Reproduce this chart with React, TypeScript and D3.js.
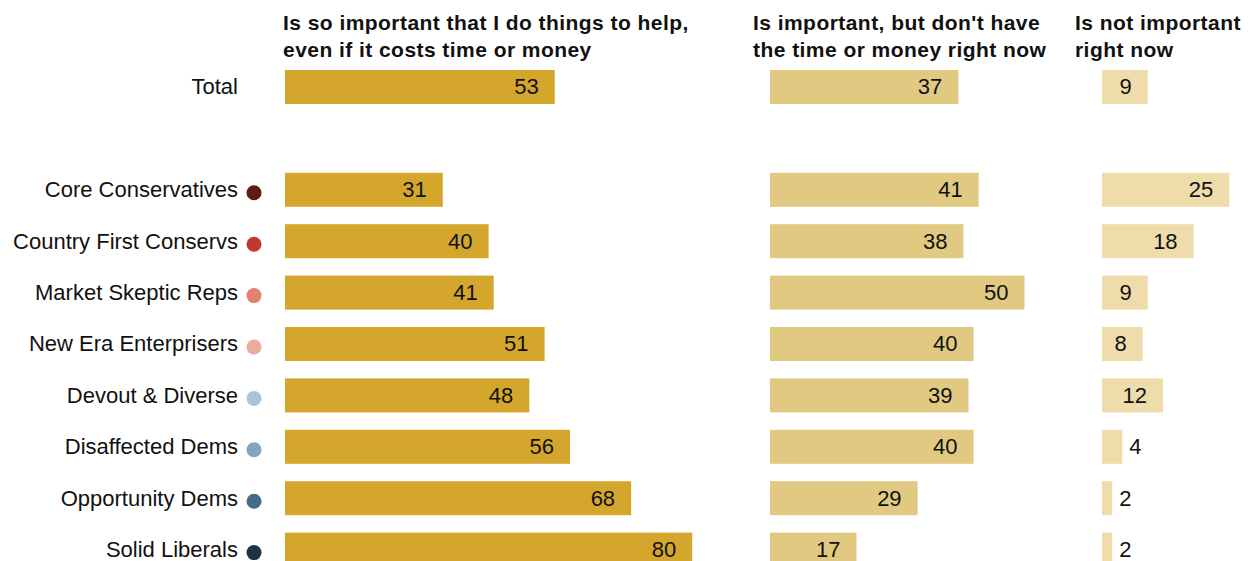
import React from "react";
import * as d3 from "d3";

const categories = [
  "Total",
  "Core Conservatives",
  "Country First Conservs",
  "Market Skeptic Reps",
  "New Era Enterprisers",
  "Devout & Diverse",
  "Disaffected Dems",
  "Opportunity Dems",
  "Solid Liberals",
];
const rowSlots = [0, 2, 3, 4, 5, 6, 7, 8, 9];
const dotColors = [null, "#5c1c12", "#c0392b", "#e3806f", "#eeaa9d", "#a9c4da", "#80a5c0", "#436a86", "#1f3244"];

const soImportant = [53, 31, 40, 41, 51, 48, 56, 68, 80];
const importantNoTime = [37, 41, 38, 50, 40, 39, 40, 29, 17];
const notImportant = [9, 25, 18, 9, 8, 12, 4, 2, 2];

const headers = [
  ["Is so important that I do things to help,", "even if it costs time or money"],
  ["Is important, but don't have", "the time or money right now"],
  ["Is not important", "right now"],
];

const seriesList = [soImportant, importantNoTime, notImportant];
const colStarts = [285, 770, 1102];
const headerX = [283, 753, 1075];
const barColors = ["#d4a72c", "#e2c982", "#eedcab"];

const W = 1254;
const H = 561;

export default function App() {
  const x = d3.scaleLinear().domain([0, 100]).range([0, 509]);
  const y = d3.scaleLinear().domain([0, 9]).range([87, 87 + 9 * 51.4]);
  const barH = 34;
  const font = "'Liberation Sans', Arial, sans-serif";

  return (
    <div style={{ position: "absolute", left: 0, top: 0 }}>
      <svg width={W} height={H} style={{ display: "block", background: "#fff" }}>
        {headers.map((lines, c) =>
          lines.map((t, j) => (
            <text
              key={`h${c}-${j}`}
              x={headerX[c]}
              y={30 + j * 27}
              fontFamily={font}
              fontWeight="bold"
              fontSize={21}
              fill="#111"
              letterSpacing={0.45}
            >
              {t}
            </text>
          ))
        )}
        {categories.map((cat, i) => {
          const cy = y(rowSlots[i]);
          return (
            <g key={cat}>
              <text
                x={238}
                y={cy}
                dy="0.34em"
                textAnchor="end"
                fontFamily={font}
                fontSize={22}
                fill="#111"
              >
                {cat}
              </text>
              {dotColors[i] && <circle cx={254} cy={cy + 3} r={7.5} fill={dotColors[i] as string} />}
              {seriesList.map((s, c) => {
                const v = s[i];
                const w = x(v);
                const x0 = colStarts[c];
                const inside = v >= 5;
                return (
                  <g key={c}>
                    <rect x={x0} y={cy - barH / 2} width={w} height={barH} fill={barColors[c]} />
                    <text
                      x={inside ? x0 + w - 16 : x0 + w + 7}
                      y={cy}
                      dy="0.34em"
                      textAnchor={inside ? "end" : "start"}
                      fontFamily={font}
                      fontSize={22}
                      fill="#111"
                    >
                      {v}
                    </text>
                  </g>
                );
              })}
            </g>
          );
        })}
      </svg>
    </div>
  );
}
